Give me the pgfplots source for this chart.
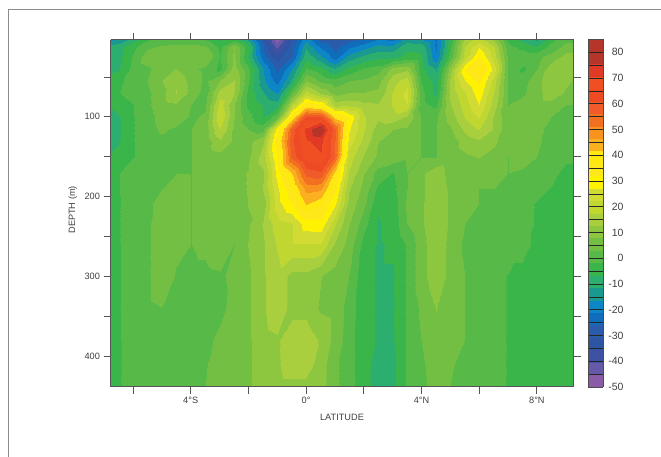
\documentclass[border=0pt]{standalone}
\usepackage{pgfplots}
\pgfplotsset{compat=1.18}
\usepackage{fontspec}
\setmainfont{Liberation Sans}
\definecolor{axl}{HTML}{555555}
\pgfplotsset{
 colormap={ctd}{rgb255=(138,92,167) rgb255=(102,89,167) rgb255=(63,81,163) rgb255=(46,84,164) rgb255=(43,92,171) rgb255=(15,109,188) rgb255=(12,134,198) rgb255=(26,154,142) rgb255=(43,174,110) rgb255=(57,181,74) rgb255=(87,185,71) rgb255=(114,191,68) rgb255=(141,198,63) rgb255=(169,207,63) rgb255=(191,215,48) rgb255=(210,219,51) rgb255=(255,242,0) rgb255=(255,232,26) rgb255=(255,232,16) rgb255=(251,176,31) rgb255=(247,147,30) rgb255=(243,112,33) rgb255=(241,90,41) rgb255=(238,74,35) rgb255=(240,78,35) rgb255=(224,58,39) rgb255=(181,53,43) rgb255=(181,53,43)},
 colormap access=piecewise constant,
 /pgf/number format/assume math mode=true,
}
\newcommand{\ff}{\fontsize{9.2bp}{10bp}\selectfont}
\begin{document}
\begin{tikzpicture}[x=1bp,y=1bp]
\useasboundingbox (0,0) rectangle (661,457);
\fill[white] (0,0) rectangle (661,457);
\draw[gray!90,line width=1.6bp] (8.5,0) -- (8.5,447.5) -- (661,447.5);
\begin{axis}[
 at={(110.5bp,70bp)},anchor=south west,scale only axis,width=463bp,height=347.5bp,
 xmin=-6.78,xmax=9.27,ymin=3,ymax=439,y dir=reverse,
 view={0}{90},
 axis on top,
 point meta min=-50,point meta max=85,
 xtick={-6,-4,-2,0,2,4,6,8},
 xticklabels={,4°S,,0°,,4°N,,8°N},
 ytick={50,100,...,400},
 yticklabels={,100,,200,,300,,400},
 tick align=outside,
 tick style={axl,line width=0.8bp},
 major tick length=7bp,
 tick pos=both,
 ticklabel pos=lower,
 xticklabel pos=lower,
 yticklabel pos=left,
 axis line style={axl,line width=1bp},
 ticklabel style={font=\ff,text=black!75},
 xlabel={LATITUDE},ylabel={DEPTH (m)},
 label style={font=\ff,text=black!75},
 xlabel style={at={(axis description cs:0.50,0)},anchor=north,yshift=-24bp,xshift=0bp},
 ylabel style={at={(axis description cs:0,0.51)},anchor=south,xshift=0bp,yshift=30bp},
]
\addplot3[surf,shader=interp,mesh/cols=34] table[row sep=\\]{
-7 3 -18\\-6.5 3 -15\\-6 3 -8\\-5.5 3 -2\\-5 3 0\\-4.5 3 0\\-4 3 -1\\-3.5 3 -1\\-3 3 -7\\-2.5 3 -3\\-2 3 -12\\-1.5 3 -30\\-1 3 -48\\-.5 3 -30\\0 3 -17\\.5 3 -28\\1 3 -30\\1.5 3 -27\\2 3 -25\\2.5 3 -20\\3 3 -22\\3.5 3 -13\\4 3 -15\\4.5 3 -22\\5 3 -5\\5.5 3 15\\6 3 20\\6.5 3 12\\7 3 -3\\7.5 3 -8\\8 3 -12\\8.5 3 -3\\9 3 2\\9.5 3 2\\
-7 12 -10\\-6.5 12 -8\\-6 12 -3\\-5.5 12 2\\-5 12 4\\-4.5 12 5\\-4 12 5\\-3.5 12 4\\-3 12 -3\\-2.5 12 8\\-2 12 -5\\-1.5 12 -26\\-1 12 -42\\-.5 12 -28\\0 12 -12\\.5 12 -22\\1 12 -28\\1.5 12 -22\\2 12 -18\\2.5 12 -14\\3 12 -14\\3.5 12 -8\\4 12 -8\\4.5 12 -22\\5 12 -3\\5.5 12 18\\6 12 27\\6.5 12 18\\7 12 0\\7.5 12 -3\\8 12 -6\\8.5 12 0\\9 12 5\\9.5 12 5\\
-7 25 -10\\-6.5 25 -8\\-6 25 -1\\-5.5 25 6\\-5 25 7\\-4.5 25 5\\-4 25 3\\-3.5 25 8\\-3 25 -2\\-2.5 25 9\\-2 25 -7\\-1.5 25 -24\\-1 25 -33\\-.5 25 -26\\0 25 -8\\.5 25 -15\\1 25 -24\\1.5 25 -14\\2 25 -10\\2.5 25 -8\\3 25 -8\\3.5 25 -5\\4 25 -6\\4.5 25 -20\\5 25 0\\5.5 25 20\\6 25 32\\6.5 25 20\\7 25 2\\7.5 25 2\\8 25 2\\8.5 25 5\\9 25 10\\9.5 25 8\\
-7 40 -9\\-6.5 40 -7\\-6 40 0\\-5.5 40 2\\-5 40 6\\-4.5 40 8\\-4 40 4\\-3.5 40 2\\-3 40 -3\\-2.5 40 10\\-2 40 0\\-1.5 40 -16\\-1 40 -27\\-.5 40 -16\\0 40 -1\\.5 40 -5\\1 40 -11\\1.5 40 -5\\2 40 -1\\2.5 40 1\\3 40 10\\3.5 40 12\\4 40 -5\\4.5 40 -12\\5 40 10\\5.5 40 32\\6 40 40\\6.5 40 25\\7 40 3\\7.5 40 -3\\8 40 3\\8.5 40 11\\9 40 12\\9.5 40 8\\
-7 55 -5\\-6.5 55 -3\\-6 55 1\\-5.5 55 3\\-5 55 8\\-4.5 55 12\\-4 55 6\\-3.5 55 2\\-3 55 8\\-2.5 55 13\\-2 55 -1\\-1.5 55 -15\\-1 55 -23\\-.5 55 -10\\0 55 8\\.5 55 2\\1 55 0\\1.5 55 3\\2 55 4\\2.5 55 6\\3 55 16\\3.5 55 20\\4 55 -2\\4.5 55 -9\\5 55 14\\5.5 55 27\\6 55 33\\6.5 55 20\\7 55 3\\7.5 55 1\\8 55 6\\8.5 55 12\\9 55 9\\9.5 55 6\\
-7 70 -3\\-6.5 70 -2\\-6 70 1\\-5.5 70 2\\-5 70 6\\-4.5 70 13\\-4 70 6\\-3.5 70 1\\-3 70 15\\-2.5 70 13\\-2 70 -3\\-1.5 70 -11\\-1 70 -17\\-.5 70 2\\0 70 20\\.5 70 12\\1 70 6\\1.5 70 8\\2 70 8\\2.5 70 9\\3 70 18\\3.5 70 24\\4 70 0\\4.5 70 -8\\5 70 14\\5.5 70 22\\6 70 30\\6.5 70 17\\7 70 3\\7.5 70 2\\8 70 6\\8.5 70 11\\9 70 7\\9.5 70 5\\
-7 85 -7\\-6.5 85 -5\\-6 85 -2\\-5.5 85 2\\-5 85 6\\-4.5 85 7\\-4 85 3\\-3.5 85 2\\-3 85 20\\-2.5 85 8\\-2 85 -3\\-1.5 85 -7\\-1 85 -9\\-.5 85 18\\0 85 37\\.5 85 33\\1 85 15\\1.5 85 16\\2 85 14\\2.5 85 13\\3 85 18\\3.5 85 22\\4 85 0\\4.5 85 -3\\5 85 12\\5.5 85 20\\6 85 27\\6.5 85 15\\7 85 3\\7.5 85 5\\8 85 6\\8.5 85 6\\9 85 3\\9.5 85 3\\
-7 100 -9\\-6.5 100 -7\\-6 100 -2\\-5.5 100 1\\-5 100 5\\-4.5 100 7\\-4 100 2\\-3.5 100 4\\-3 100 22\\-2.5 100 8\\-2 100 0\\-1.5 100 -7\\-1 100 2\\-.5 100 38\\0 100 62\\.5 100 62\\1 100 40\\1.5 100 31\\2 100 18\\2.5 100 14\\3 100 16\\3.5 100 12\\4 100 3\\4.5 100 2\\5 100 10\\5.5 100 18\\6 100 23\\6.5 100 12\\7 100 4\\7.5 100 7\\8 100 5.5\\8.5 100 3\\9 100 1\\9.5 100 0\\
-7 115 -9\\-6.5 115 -7\\-6 115 -2\\-5.5 115 1\\-5 115 4\\-4.5 115 2\\-4 115 3\\-3.5 115 5\\-3 115 18\\-2.5 115 7\\-2 115 3\\-1.5 115 1\\-1 115 30\\-.5 115 58\\0 115 72\\.5 115 82\\1 115 57\\1.5 115 28\\2 115 18\\2.5 115 10\\3 115 8\\3.5 115 7\\4 115 3\\4.5 115 3\\5 115 7\\5.5 115 14\\6 115 18\\6.5 115 12\\7 115 4\\7.5 115 7\\8 115 4\\8.5 115 2\\9 115 1\\9.5 115 -.5\\
-7 130 -9\\-6.5 130 -7\\-6 130 -2\\-5.5 130 0\\-5 130 2\\-4.5 130 2\\-4 130 3\\-3.5 130 5\\-3 130 12\\-2.5 130 7\\-2 130 6\\-1.5 130 12\\-1 130 35\\-.5 130 60\\0 130 70\\.5 130 72\\1 130 56\\1.5 130 25\\2 130 16\\2.5 130 8\\3 130 6\\3.5 130 5\\4 130 3\\4.5 130 3\\5 130 5\\5.5 130 10\\6 130 12\\6.5 130 9\\7 130 4\\7.5 130 7\\8 130 3.5\\8.5 130 2\\9 130 .5\\9.5 130 -1\\
-7 150 -7\\-6.5 150 -5\\-6 150 -2\\-5.5 150 0\\-5 150 2\\-4.5 150 2\\-4 150 3\\-3.5 150 5\\-3 150 6\\-2.5 150 7\\-2 150 7\\-1.5 150 15\\-1 150 32\\-.5 150 58\\0 150 68\\.5 150 70\\1 150 56\\1.5 150 20\\2 150 12\\2.5 150 7\\3 150 6\\3.5 150 4\\4 150 3\\4.5 150 3\\5 150 5\\5.5 150 7\\6 150 8\\6.5 150 6\\7 150 3\\7.5 150 6\\8 150 3\\8.5 150 1\\9 150 -1\\9.5 150 -1\\
-7 170 -3\\-6.5 170 -2\\-6 170 2\\-5.5 170 2\\-5 170 3\\-4.5 170 3\\-4 170 3\\-3.5 170 5\\-3 170 6\\-2.5 170 7\\-2 170 8\\-1.5 170 12\\-1 170 29\\-.5 170 42\\0 170 58\\.5 170 60\\1 170 40\\1.5 170 17\\2 170 8\\2.5 170 1\\3 170 -2\\3.5 170 3\\4 170 7\\4.5 170 11\\5 170 6\\5.5 170 6\\6 170 4\\6.5 170 4\\7 170 3\\7.5 170 2\\8 170 2\\8.5 170 -.5\\9 170 -3\\9.5 170 -3\\
-7 190 -2\\-6.5 190 -2\\-6 190 1\\-5.5 190 2\\-5 190 3\\-4.5 190 5.5\\-4 190 3\\-3.5 190 4\\-3 190 6\\-2.5 190 7\\-2 190 8\\-1.5 190 13\\-1 190 26\\-.5 190 36\\0 190 48\\.5 190 47\\1 190 33\\1.5 190 13\\2 190 6\\2.5 190 -3\\3 190 -3\\3.5 190 3\\4 190 7\\4.5 190 11\\5 190 7\\5.5 190 5\\6 190 3\\6.5 190 3\\7 190 2\\7.5 190 1\\8 190 -1\\8.5 190 -2\\9 190 -3\\9.5 190 -3\\
-7 210 -2\\-6.5 210 -2\\-6 210 1\\-5.5 210 2\\-5 210 5\\-4.5 210 7\\-4 210 3\\-3.5 210 5.5\\-3 210 6\\-2.5 210 6\\-2 210 8\\-1.5 210 10\\-1 210 25\\-.5 210 32\\0 210 42\\.5 210 38\\1 210 28\\1.5 210 11\\2 210 4\\2.5 210 -6\\3 210 -4\\3.5 210 4\\4 210 7\\4.5 210 12\\5 210 7\\5.5 210 4\\6 210 3\\6.5 210 2\\7 210 1.5\\7.5 210 -1\\8 210 -2\\8.5 210 -2\\9 210 -3\\9.5 210 -3\\
-7 235 -2\\-6.5 235 -2\\-6 235 1\\-5.5 235 2\\-5 235 6.5\\-4.5 235 6\\-4 235 3\\-3.5 235 5.5\\-3 235 6.5\\-2.5 235 4\\-2 235 7\\-1.5 235 13\\-1 235 20\\-.5 235 22\\0 235 29.5\\.5 235 30.5\\1 235 18\\1.5 235 8\\2 235 0\\2.5 235 -7\\3 235 -5\\3.5 235 3\\4 235 7\\4.5 235 12\\5 235 7\\5.5 235 3\\6 235 3\\6.5 235 1\\7 235 1\\7.5 235 -1\\8 235 -2\\8.5 235 -2\\9 235 -3\\9.5 235 -3\\
-7 260 -2\\-6.5 260 -2\\-6 260 0\\-5.5 260 2\\-5 260 7\\-4.5 260 4.5\\-4 260 3\\-3.5 260 4\\-3 260 6\\-2.5 260 3\\-2 260 8\\-1.5 260 12\\-1 260 18\\-.5 260 22\\0 260 22\\.5 260 22\\1 260 12\\1.5 260 6\\2 260 -4\\2.5 260 -7\\3 260 -6\\3.5 260 -1\\4 260 6\\4.5 260 11\\5 260 6.5\\5.5 260 2\\6 260 2\\6.5 260 1.5\\7 260 .5\\7.5 260 -1.5\\8 260 -2\\8.5 260 -2\\9 260 -3\\9.5 260 -3\\
-7 300 -2\\-6.5 300 -2\\-6 300 0\\-5.5 300 2\\-5 300 6.5\\-4.5 300 2.5\\-4 300 2\\-3.5 300 2\\-3 300 2.5\\-2.5 300 4\\-2 300 7\\-1.5 300 12\\-1 300 16\\-.5 300 11\\0 300 11\\.5 300 8\\1 300 6\\1.5 300 3\\2 300 -5.5\\2.5 300 -7\\3 300 -7\\3.5 300 -1\\4 300 6\\4.5 300 11\\5 300 6.5\\5.5 300 3\\6 300 2\\6.5 300 -.5\\7 300 -2\\7.5 300 -2\\8 300 -2\\8.5 300 -2\\9 300 -3\\9.5 300 -3\\
-7 340 -2\\-6.5 340 -2\\-6 340 .5\\-5.5 340 2\\-5 340 3\\-4.5 340 2\\-4 340 2\\-3.5 340 2\\-3 340 2\\-2.5 340 4.5\\-2 340 7\\-1.5 340 12\\-1 340 16\\-.5 340 11\\0 340 11\\.5 340 7\\1 340 6\\1.5 340 1\\2 340 -5.5\\2.5 340 -7\\3 340 -7\\3.5 340 -1\\4 340 4\\4.5 340 8\\5 340 6\\5.5 340 3\\6 340 2\\6.5 340 -.5\\7 340 -2\\7.5 340 -2\\8 340 -2\\8.5 340 -2\\9 340 -3\\9.5 340 -3\\
-7 380 -2\\-6.5 380 -2\\-6 380 -.5\\-5.5 380 2\\-5 380 2\\-4.5 380 2\\-4 380 2\\-3.5 380 2\\-3 380 4\\-2.5 380 7\\-2 380 7\\-1.5 380 11\\-1 380 12\\-.5 380 15.5\\0 380 15.5\\.5 380 12\\1 380 6\\1.5 380 .5\\2 380 -5.5\\2.5 380 -7\\3 380 -7\\3.5 380 -1\\4 380 3\\4.5 380 7\\5 380 5\\5.5 380 3\\6 380 2\\6.5 380 -.5\\7 380 -2\\7.5 380 -2\\8 380 -2\\8.5 380 -2\\9 380 -3\\9.5 380 -3\\
-7 410 -2\\-6.5 410 -2\\-6 410 -.5\\-5.5 410 2\\-5 410 2\\-4.5 410 2\\-4 410 2\\-3.5 410 2.5\\-3 410 6\\-2.5 410 7\\-2 410 7\\-1.5 410 11\\-1 410 12\\-.5 410 15.5\\0 410 15.5\\.5 410 10\\1 410 4\\1.5 410 .5\\2 410 -5.5\\2.5 410 -8\\3 410 -8\\3.5 410 -1\\4 410 2\\4.5 410 6\\5 410 3.5\\5.5 410 2\\6 410 2\\6.5 410 -.5\\7 410 -2\\7.5 410 -2\\8 410 -2\\8.5 410 -2\\9 410 -3\\9.5 410 -3\\
-7 439 -2\\-6.5 439 -2\\-6 439 -.5\\-5.5 439 2\\-5 439 2\\-4.5 439 2\\-4 439 2\\-3.5 439 3\\-3 439 6\\-2.5 439 6\\-2 439 7\\-1.5 439 10.5\\-1 439 11\\-.5 439 11\\0 439 11\\.5 439 10\\1 439 4\\1.5 439 .5\\2 439 -5.5\\2.5 439 -8\\3 439 -8\\3.5 439 -1\\4 439 1.5\\4.5 439 5.2\\5 439 3\\5.5 439 2\\6 439 2\\6.5 439 -.5\\7 439 -2\\7.5 439 -2\\8 439 -2\\8.5 439 -2\\9 439 -3\\9.5 439 -3\\
};
\end{axis}
\begin{axis}[
 at={(588bp,70bp)},anchor=south west,scale only axis,width=15bp,height=347.5bp,
 xmin=0,xmax=1,ymin=-50,ymax=85,view={0}{90},axis on top,
 point meta min=-50,point meta max=85,
 xtick=\empty,
 ytick={-50,-40,...,80},minor ytick={-45,-35,...,85},
 yticklabel pos=right,
 tick style={draw=none},
 grid=both,
 major grid style={black!85,line width=0.7bp},
 minor grid style={black!85,line width=0.7bp},
 axis line style={black!70,line width=0.7bp},
 yticklabel style={font=\fontsize{10.5bp}{11bp}\selectfont,text=black!75,anchor=east,xshift=24bp},
]
\addplot3[surf,shader=interp,mesh/cols=2,point meta=y] table[row sep=\\]{
0 -50 0\\1 -50 0\\
0 85 0\\1 85 0\\
};
\end{axis}
\end{tikzpicture}
\end{document}
